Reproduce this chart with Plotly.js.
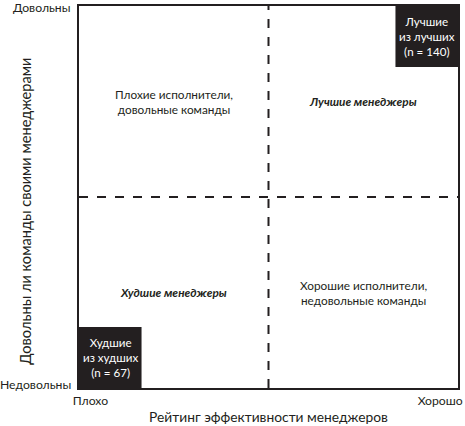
<!DOCTYPE html>
<html>
<head>
<meta charset="utf-8">
<script src="https://cdn.plot.ly/plotly-3.0.1.min.js"></script>
<style>
  html, body { margin: 0; padding: 0; background: #fff; }
  #chart { width: 465px; height: 426px; }
</style>
</head>
<body>
<div id="chart"></div>
<script>
// axis labels
const xTickText = ["Плохо", "Хорошо"];
const yTickText = ["Недовольны", "Довольны"];
const xTitle = "Рейтинг эффективности менеджеров";
const yTitle = "Довольны ли команды своими менеджерами";

// quadrant captions: [bottom-left, bottom-right, top-left, top-right]
const quadrantText = [
    "<b><i>Худшие менеджеры</i></b>",
    "Хорошие исполнители,<br>недовольные команды",
    "Плохие исполнители,<br>довольные команды",
    "<b><i>Лучшие менеджеры</i></b>",
];

// corner groups
const cornerNames = ["Худшие<br>из худших", "Лучшие<br>из лучших"];
const cornerCounts = [67, 140];

const FONT = "Lato, 'Open Sans', sans-serif";
const INK = "#231f20";

const plotDiv = document.getElementById("chart");

const qx = [0.25, 0.75, 0.25, 0.75];
const qy = [0.25, 0.25, 0.75, 0.75];

const annotations = quadrantText.map((t, i) => ({
    x: qx[i], y: qy[i], xref: "x", yref: "y",
    text: t, showarrow: false,
    font: {family: FONT, size: 11.8, color: INK},
    align: "center",
}));

// corner boxes
const BOX_W = 0.165, BOX_H = 0.16;
const corners = [
    {x0: 0, x1: BOX_W, y0: 0, y1: BOX_H},
    {x0: 1 - BOX_W, x1: 1, y0: 1 - BOX_H, y1: 1},
];
const shapes = corners.map(c => ({
    type: "rect", xref: "x", yref: "y",
    x0: c.x0, x1: c.x1, y0: c.y0, y1: c.y1,
    fillcolor: INK, line: {width: 0},
}));
corners.forEach((c, i) => {
    annotations.push({
        x: (c.x0 + c.x1) / 2, y: (c.y0 + c.y1) / 2, xref: "x", yref: "y",
        text: cornerNames[i] + "<br>(n = " + cornerCounts[i] + ")",
        showarrow: false, align: "center",
        font: {family: FONT, size: 11.6, color: "#fff"},
    });
});

// dashed mid lines
shapes.push({type: "line", xref: "x", yref: "y", x0: 0.5, x1: 0.5, y0: 0, y1: 1,
    line: {color: INK, width: 2, dash: "dash"}});
shapes.push({type: "line", xref: "x", yref: "y", x0: 0, x1: 1, y0: 0.5, y1: 0.5,
    line: {color: INK, width: 2, dash: "dash"}});

// y tick labels (the top one sits right on the frame edge)
const yTickVals = [0.008, 0.997];
yTickText.forEach((t, i) => {
    annotations.push({
        x: -0.016, y: yTickVals[i], xref: "paper", yref: "y",
        xanchor: "right", yanchor: "middle",
        text: t, showarrow: false,
        font: {family: FONT, size: 12.2, color: INK},
    });
});

// y title drawn as rotated annotation (sits a bit below centre in the original)
annotations.push({
    x: -0.142, y: 0.462, xref: "paper", yref: "paper",
    xanchor: "center", yanchor: "middle",
    text: yTitle, textangle: -90, showarrow: false,
    font: {family: FONT, size: 14.6, color: INK},
});

const layout = {
    width: 465,
    height: 426,
    margin: {l: 79, r: 7, t: 6, b: 38},
    paper_bgcolor: "#fff",
    plot_bgcolor: "#fff",
    showlegend: false,
    font: {family: FONT, color: INK},
    xaxis: {
        range: [0, 1], fixedrange: true,
        showgrid: false, zeroline: false,
        showline: true, mirror: true, linecolor: INK, linewidth: 2,
        ticks: "", tickvals: [0.03, 0.953], ticktext: xTickText,
        tickfont: {family: FONT, size: 12.2, color: INK},
        title: {text: xTitle, font: {family: FONT, size: 13.8, color: INK}, standoff: 6},
    },
    yaxis: {
        range: [0, 1], fixedrange: true,
        showgrid: false, zeroline: false,
        showline: true, mirror: true, linecolor: INK, linewidth: 2,
        showticklabels: false, ticks: "",
    },
    shapes: shapes,
    annotations: annotations,
};

Plotly.newPlot(plotDiv, [], layout, {displayModeBar: false, staticPlot: true});
</script>
</body>
</html>
